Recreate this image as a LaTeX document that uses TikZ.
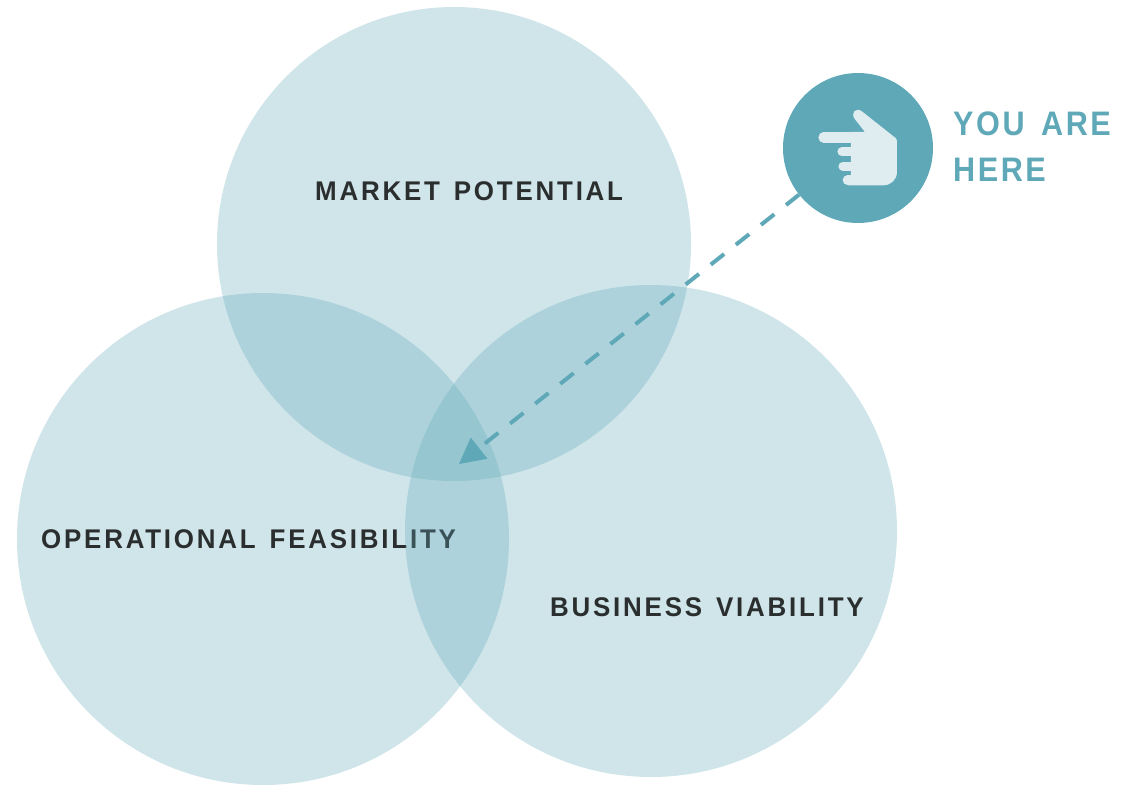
\documentclass[tikz,border=0pt]{standalone}
\usepackage{fontspec}
\setmainfont{Liberation Sans}
\usetikzlibrary{arrows.meta}
\newfontfamily\lblfont[LetterSpace=10.3,FakeStretch=0.96,WordSpace=1.4]{Liberation Sans}
\newfontfamily\herefont[LetterSpace=7.5,FakeStretch=0.9,WordSpace=1.5]{Liberation Sans}
\definecolor{teal}{HTML}{5FA8B8}
\definecolor{handcol}{HTML}{DFEDF0}
\definecolor{inkcol}{HTML}{2B2E2E}
\tikzset{
  venn/.style={circle,inner sep=0pt,fill=teal,fill opacity=0.3,text opacity=1},
  lbl/.style={anchor=base west,inner sep=0pt,text=inkcol,font=\lblfont\bfseries\fontsize{27}{32}\selectfont},
  here/.style={anchor=base west,inner sep=0pt,text=teal,font=\herefont\bfseries\fontsize{34}{40}\selectfont},
  pointer/.style={draw=teal,line width=4pt,dash pattern=on 17pt off 15pt,dash phase=0.4pt,
     -{Triangle[length=25.6pt,width=27pt,line width=0pt,fill=teal]}},
  finger/.style={draw=handcol,line cap=round}
}
\begin{document}
\begin{tikzpicture}[x=1pt,y=-1pt]
\useasboundingbox (0,0) rectangle (1136,785);
\node[venn,minimum size=474pt] (market) at (454,244) {};
\node[venn,minimum size=492pt] (oper) at (263,539) {};
\node[lbl] (operlabel) at (41,548) {OPERATIONAL FEASIBILITY};
\node[venn,minimum size=492pt] (business) at (651,531) {};
\node[lbl] (marketlabel) at (315,200) {MARKET POTENTIAL};
\node[lbl] (businesslabel) at (550,616) {BUSINESS VIABILITY};
\node[circle,inner sep=0pt,minimum size=150pt,fill=teal] (icon) at (858,148) {};
\coordinate (tip) at (459,464);
\draw[pointer] (icon) -- (tip);
\begin{scope}[shift={(770,60)},x=0.3333pt,y=-0.3333pt]
\fill[handcol] (243,250) -- (243,216) -- (285,216) -- (255,178)
  .. controls (240,158) and (258,140) .. (277,155) -- (378,235) -- (381,242) -- (381,335)
  .. controls (381,360) and (362,376) .. (340,376) -- (235,376) -- (243,345) -- cycle;
\draw[finger,line width=10.6pt] (161,232) -- (245,232);
\draw[finger,line width=9.2pt] (216,275) -- (245,275);
\draw[finger,line width=9.2pt] (219,319) -- (245,319);
\draw[finger,line width=10pt] (233,361) -- (245,361);
\end{scope}
\node[here] (you) at (953,135) {YOU ARE};
\node[here] (herelabel) at (953,181) {HERE};
\end{tikzpicture}
\end{document}
